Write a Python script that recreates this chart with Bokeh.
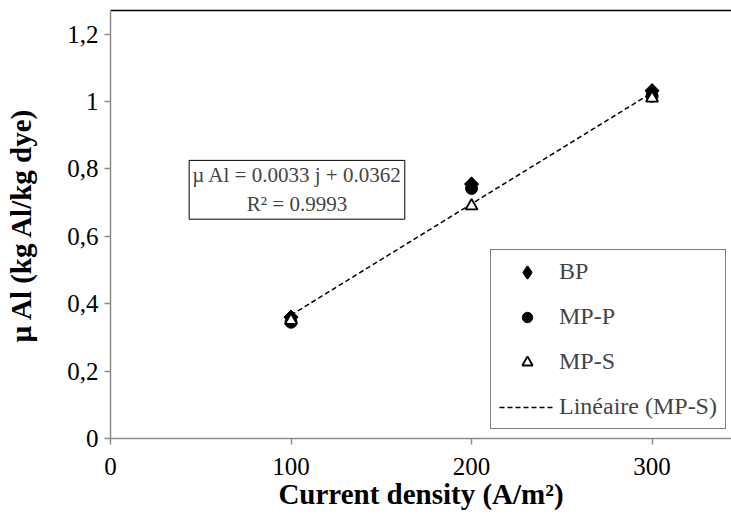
import math
from bokeh.plotting import figure
from bokeh.models import (Range1d, LinearAxis, FixedTicker, CustomJSTickFormatter,
                          Legend, LegendItem, Label)
from bokeh.embed import file_html
from bokeh.resources import INLINE

# Data
current_density = [100, 200, 300]
bp = [0.36, 0.755, 1.032]
mp_p = [0.345, 0.742, 1.016]
mp_s = [0.35, 0.69, 1.01]
trend_slope = 0.0033
trend_intercept = 0.0362
trend_x = [100, 300]
x_ticks = [0, 100, 200, 300]
y_ticks = [0, 0.2, 0.4, 0.6, 0.8, 1.0, 1.2]
equation_text = "µ Al = 0.0033 j + 0.0362\nR² = 0.9993"

FONT = "Liberation Serif"
AXIS_GRAY = "#8c8c8c"

p = figure(width=731, height=532, output_backend="svg", toolbar_location=None,
           x_range=Range1d(0, 344), y_range=Range1d(0, 1.27),
           min_border_left=110, min_border_right=0, min_border_top=10,
           min_border_bottom=94)
p.grid.visible = False
p.outline_line_color = None
p.background_fill_color = "white"
p.border_fill_color = "white"

# Axes
for ax in (p.xaxis[0], p.yaxis[0]):
    ax.axis_line_color = AXIS_GRAY
    ax.axis_line_width = 1.5
    ax.major_tick_line_color = AXIS_GRAY
    ax.major_tick_line_width = 1.5
    ax.major_tick_in = 0
    ax.major_tick_out = 6
    ax.minor_tick_line_color = None
    ax.major_label_text_font = FONT
    ax.major_label_text_font_size = "25px"
    ax.major_label_text_color = "black"
    ax.axis_label_text_font = FONT
    ax.axis_label_text_font_size = "29px"
    ax.axis_label_text_font_style = "bold"
    ax.axis_label_text_color = "black"

p.xaxis[0].ticker = FixedTicker(ticks=x_ticks)
p.yaxis[0].ticker = FixedTicker(ticks=y_ticks)
p.yaxis[0].formatter = CustomJSTickFormatter(
    code="return (Math.round(tick*10)/10).toString().replace('.', ',');")
p.xaxis[0].major_label_standoff = 13
p.yaxis[0].major_label_standoff = 6
p.xaxis[0].axis_label = "Current density (A/m²)"
p.yaxis[0].axis_label = "µ Al (kg Al/kg dye)"
p.xaxis[0].axis_label_standoff = 0
p.yaxis[0].axis_label_standoff = 27

# top border line
top = LinearAxis(ticker=FixedTicker(ticks=[]), major_tick_in=0, major_tick_out=0,
                 minor_tick_in=0, minor_tick_out=0, major_label_text_font_size="0px",
                 axis_line_color="black", axis_line_width=1.5)
p.add_layout(top, "above")

# Trend line
trend_y = [trend_slope * x + trend_intercept for x in trend_x]
r_line = p.line(trend_x, trend_y, line_color="black", line_width=1.5, line_dash="5 3")

# Points
# diamond drawn under the BP points, used as the BP legend symbol
r_bp_leg = p.scatter(current_density, bp, marker="diamond", size=11, fill_color="black",
                     line_color="black", line_width=3, line_join="round")
r_bp = p.scatter(current_density, bp, marker="square", size=10, angle=math.pi / 4,
                 color="black")
r_mpp = p.scatter(current_density, mp_p, marker="circle", size=12, color="black")
r_mps = p.scatter(current_density, mp_s, marker="triangle", size=12,
                  fill_color="white", line_color="black", line_width=1.8)

legend = Legend(items=[
    LegendItem(label="BP", renderers=[r_bp_leg]),
    LegendItem(label="MP-P", renderers=[r_mpp]),
    LegendItem(label="MP-S", renderers=[r_mps]),
    LegendItem(label="Linéaire (MP-S)", renderers=[r_line]),
], location=(380, 9), orientation="vertical")
legend.label_text_font = FONT
legend.label_text_font_size = "24px"
legend.glyph_width = 56
legend.glyph_height = 26
legend.label_height = 26
legend.spacing = 18
legend.padding = 8
legend.margin = 0
legend.label_standoff = 4
legend.border_line_color = "black"
legend.border_line_width = 1.5
legend.background_fill_color = "white"
legend.background_fill_alpha = 1
p.add_layout(legend, "center")

eq = Label(x=103.3, y=0.738, text=equation_text, text_align="center",
           text_baseline="middle", text_font=FONT, text_font_size="21px",
           border_line_color="black", border_line_width=1,
           background_fill_color="white", padding=3)
p.add_layout(eq)

open("out.html", "w").write(file_html(p, INLINE))
